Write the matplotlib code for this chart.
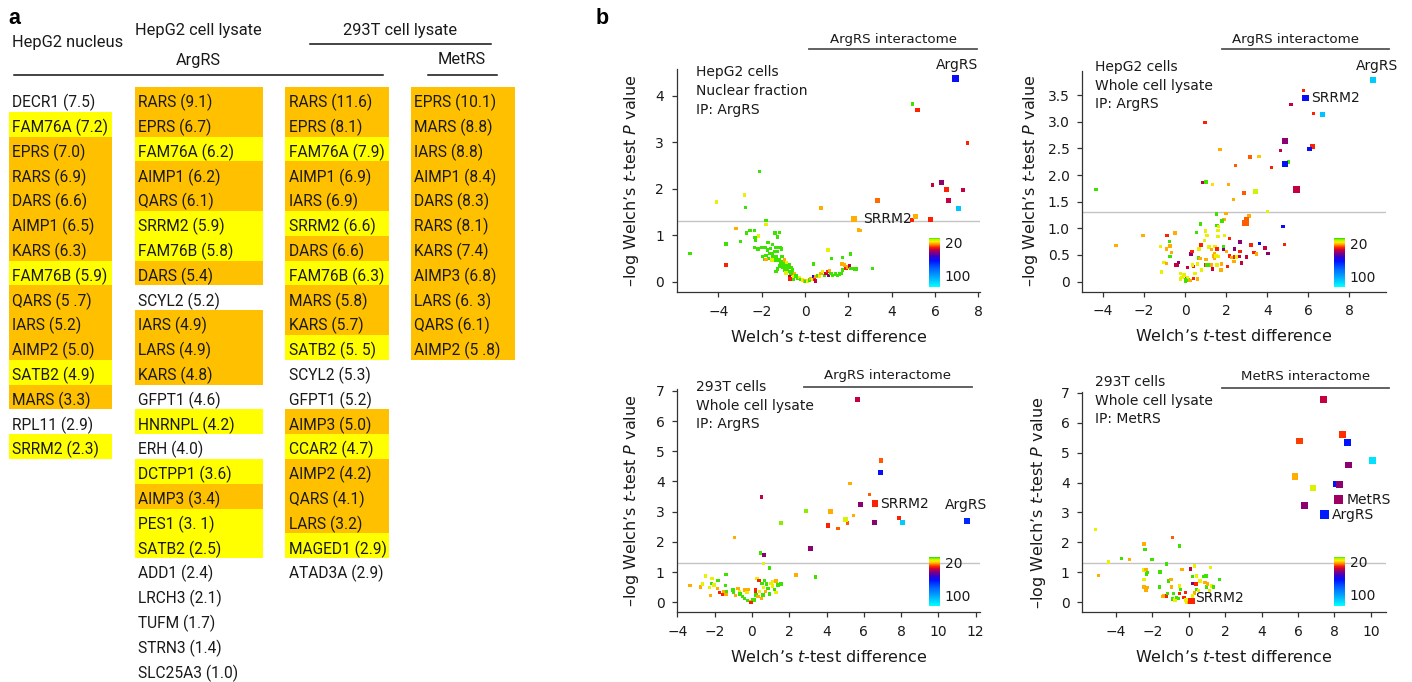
import matplotlib
matplotlib.use("Agg")
import matplotlib.pyplot as plt
from matplotlib import font_manager
from matplotlib.colors import LinearSegmentedColormap, Normalize
from matplotlib.cm import ScalarMappable
from matplotlib.patches import Rectangle

# ------------------------------------------------------------------ data: panel a
col1_names = ["DECR1", "FAM76A", "EPRS", "RARS", "DARS", "AIMP1", "KARS", "FAM76B", "QARS",
              "IARS", "AIMP2", "SATB2", "MARS", "RPL11", "SRRM2"]
col1_vals = ["7.5", "7.2", "7.0", "6.9", "6.6", "6.5", "6.3", "5.9", "5 .7", "5.2", "5.0", "4.9",
             "3.3", "2.9", "2.3"]
col1_mark = ["", "Y", "O", "O", "O", "O", "O", "Y", "O", "O", "O", "Y", "O", "", "Y"]

col2_names = ["RARS", "EPRS", "FAM76A", "AIMP1", "QARS", "SRRM2", "FAM76B", "DARS", "SCYL2", "IARS",
              "LARS", "KARS", "GFPT1", "HNRNPL", "ERH", "DCTPP1", "AIMP3", "PES1", "SATB2", "ADD1",
              "LRCH3", "TUFM", "STRN3", "SLC25A3"]
col2_vals = ["9.1", "6.7", "6.2", "6.2", "6.1", "5.9", "5.8", "5.4", "5.2", "4.9", "4.9", "4.8", "4.6",
             "4.2", "4.0", "3.6", "3.4", "3. 1", "2.5", "2.4", "2.1", "1.7", "1.4", "1.0"]
col2_mark = ["O", "O", "Y", "O", "O", "Y", "Y", "O", "", "O", "O", "O", "", "Y", "", "Y", "O", "Y",
             "Y", "", "", "", "", ""]

col3_names = ["RARS", "EPRS", "FAM76A", "AIMP1", "IARS", "SRRM2", "DARS", "FAM76B", "MARS", "KARS",
              "SATB2", "SCYL2", "GFPT1", "AIMP3", "CCAR2", "AIMP2", "QARS", "LARS", "MAGED1", "ATAD3A"]
col3_vals = ["11.6", "8.1", "7.9", "6.9", "6.9", "6.6", "6.6", "6.3", "5.8", "5.7", "5. 5", "5.3",
             "5.2", "5.0", "4.7", "4.2", "4.1", "3.2", "2.9", "2.9"]
col3_mark = ["O", "O", "Y", "O", "O", "Y", "O", "Y", "O", "O", "Y", "", "", "O", "Y", "O", "O", "O",
             "Y", ""]

col4_names = ["EPRS", "MARS", "IARS", "AIMP1", "DARS", "RARS", "KARS", "AIMP3", "LARS", "QARS", "AIMP2"]
col4_vals = ["10.1", "8.8", "8.8", "8.4", "8.3", "8.1", "7.4", "6.8", "6. 3", "6.1", "5 .8"]
col4_mark = ["O"] * 11

# ------------------------------------------------------------------ data: panel b
# colour value = position on the colour bar scale (20 ... 100); size class 1..5
p1_x = [4.97, 7.49, 5.89, 7.28, 4.94, 0.74, 2.46, 2.54, -2.11, -4.09, -2.80, -2.75, -5.31, -3.65, -3.18,
        -1.81, -1.81, -2.54, -2.34, -2.70,
        -1.39, -1.18, -1.28, -2.31, -2.29, -2.99, -3.65, -2.14, -1.71, -1.51, -2.17, -2.32, -1.99, -1.83,
        -1.72, -1.60, -1.34, -1.15, -1.09, -1.39, -1.26, -1.65, -1.49, -1.80, -1.95, -1.88, -1.68, -1.49,
        -1.34, -1.52, -1.80, -1.34, -1.19, -1.03, -1.11, -0.94, -1.19, -1.03, -0.88, -0.72, -0.65, -0.80,
        -0.96, -1.26, -1.34, -0.88, -0.72, -0.57, -0.65, -0.49, -0.72, -0.69, -0.54, -0.42, -0.34, -0.26,
        -0.19, -0.11, -0.03, 0.05, 0.12, -0.54, -1.06, -0.94, -0.85,
        0.20, 0.28, 0.35, 0.38, 0.43, 0.48, 0.51, 0.58, 0.66, 0.74, 0.81, 0.89, 0.97, 1.05, 1.09, 1.12,
        1.20, 1.28, 1.40, 1.51, 1.58, 1.69, 1.74, 1.71, 1.81, 1.89, 1.97, 2.05, 2.12, 2.28, 2.35, 3.12,
        0.38, 1.05, 1.21, 1.74, 2.09]
p1_y = [3.82, 2.98, 2.08, 1.97, 1.33, 1.58, 1.11, 1.10, 2.37, 1.71, 1.86, 1.59, 0.61, 0.36, 1.14,
        1.32, 1.23, 1.10, 1.10, 1.05,
        1.05, 1.06, 0.96, 0.95, 0.88, 0.87, 0.81, 0.98, 0.84, 0.80, 0.70, 0.73, 0.74, 0.74,
        0.68, 0.71, 0.74, 0.74, 0.70, 0.65, 0.65, 0.61, 0.61, 0.57, 0.54, 0.48, 0.50, 0.54,
        0.54, 0.47, 0.48, 0.47, 0.47, 0.43, 0.39, 0.38, 0.34, 0.32, 0.34, 0.36, 0.31, 0.27,
        0.25, 0.27, 0.22, 0.19, 0.22, 0.25, 0.17, 0.18, 0.11, 0.06, 0.11, 0.12, 0.07, 0.09,
        0.05, 0.04, 0.02, 0.00, 0.02, 0.05, 0.54, 0.47, 0.41,
        0.04, 0.07, 0.05, 0.11, 0.06, 0.02, 0.11, 0.14, 0.12, 0.18, 0.22, 0.14, 0.18, 0.22, 0.14, 0.24,
        0.18, 0.14, 0.17, 0.14, 0.17, 0.18, 0.25, 0.38, 0.36, 0.29, 0.32, 0.34, 0.29, 0.27, 0.27, 0.29,
        0.38, 0.68, 0.50, 0.52, 0.60]
p1_c = [8.5, 31, 37, 37, 31, 22, 22, 22, 8.5, 16, 16, 8.5, 8.5, 31, 22,
        8.5, 16, 8.5, 8.5, 8.5,
        8.5, 8.5, 8.5, 8.5, 8.5, 8.5, 8.5, 16, 8.5, 8.5, 8.5, 8.5, 8.5, 8.5,
        8.5, 8.5, 8.5, 8.5, 8.5, 8.5, 8.5, 8.5, 8.5, 8.5, 8.5, 8.5, 8.5, 8.5,
        8.5, 16, 22, 8.5, 8.5, 8.5, 8.5, 8.5, 8.5, 8.5, 8.5, 8.5, 8.5, 8.5,
        8.5, 8.5, 8.5, 16, 8.5, 8.5, 8.5, 22, 37, 31, 16, 8.5, 8.5, 16,
        8.5, 16, 22, 8.5, 16, 8.5, 8.5, 22, 16,
        8.5, 22, 16, 62, 31, 37, 22, 8.5, 16, 22, 16, 8.5, 37, 31, 43, 22,
        8.5, 8.5, 8.5, 8.5, 8.5, 8.5, 8.5, 22, 22, 31, 22, 37, 8.5, 8.5, 8.5, 8.5,
        8.5, 16, 8.5, 8.5, 8.5]
p1_big_x = [6.95, 5.20, 6.31, 6.51, 6.61, 7.08, 3.34, 5.08, 5.77, 2.27]
p1_big_y = [4.36, 3.69, 2.13, 1.99, 1.74, 1.58, 1.74, 1.40, 1.33, 1.34]
p1_big_c = [62, 31, 43, 31, 37, 110, 26, 22, 31, 22]
p1_big_s = [4, 2, 2, 2, 2, 2, 2, 2, 2, 3]

p2_x = [5.76, 5.16, 6.25, 0.96, 4.64, 1.69, 3.16, 3.60, 2.44, 4.20, 5.04, 0.83, 1.01, 1.33, 2.10, 2.86,
        2.37, -4.36,
        -3.38, -2.05, -0.88, -0.50, -0.78, -0.75, -0.91, -0.67, -1.20, -0.75, -1.04, -0.91, -1.17, -0.32,
        -0.45, -0.39, -0.23, -0.15, -0.23, 0.00, 0.07, 0.15, 0.23, 0.12, 0.39, 0.47, 0.39, 0.59, 0.36,
        0.28, 0.33, 0.64, 0.72, 0.59, 0.80, 0.68, 0.77, 0.55, 0.75, 0.93, 1.00, 1.06, 1.01, 0.99, 1.07,
        1.14, 1.17, 1.29, 1.42, 1.46, 1.40, 1.42, 1.50, 1.61, 1.56, 1.34, 1.29, 1.56, 1.74, 1.77, 1.87,
        1.86, 2.02, 2.15, 2.05, 2.15, 1.53, 1.99, 1.89, 1.79, 1.55, 1.63, 1.60, 1.60, 1.92, 2.28, 2.39,
        2.50, 2.38, 2.67, 2.39, 2.64, 2.67, 2.75, 3.00, 3.21, 3.35, 3.48, 3.63, 3.90, 4.03, 4.85, 4.78,
        3.04, 3.12, 4.02, -0.05, 0.10, 0.02]
p2_y = [3.59, 3.33, 3.16, 2.99, 2.46, 2.48, 2.34, 2.35, 2.18, 2.14, 2.245, 1.86, 1.87, 1.82, 1.82, 1.66,
        1.54, 1.73,
        0.68, 0.86, 0.86, 0.91, 0.75, 0.67, 0.61, 0.55, 0.66, 0.47, 0.36, 0.34, 0.18, 0.36,
        0.31, 0.30, 0.15, 0.08, 0.05, 0.00, 0.06, 0.03, 0.02, 0.27, 0.28, 0.15, 0.06, 0.05, 0.31,
        0.52, 0.56, 0.44, 0.43, 0.33, 0.22, 0.61, 0.69, 0.92, 1.08, 0.77, 0.95, 0.87, 0.42, 0.31, 0.31,
        0.31, 0.65, 0.60, 0.53, 0.66, 0.48, 0.44, 0.48, 0.47, 0.61, 0.24, 0.31, 0.31, 0.22, 0.33, 0.66,
        0.60, 0.56, 0.48, 0.28, 0.81, 1.27, 1.28, 1.17, 1.14, 1.05, 1.03, 0.96, 0.85, 0.86, 0.45, 0.46,
        0.46, 0.38, 0.74, 0.61, 0.47, 0.57, 0.35, 0.46, 0.69, 0.55, 0.52, 0.72, 0.63, 0.53, 0.70, 1.03,
        1.19, 1.23, 1.32, 0.12, 0.08, 0.04]
p2_c = [31, 37, 31, 31, 37, 22, 27, 20, 27, 31, 8.5, 37, 8.5, 19, 22, 27,
        22, 8.5,
        22, 22, 31, 22, 8.5, 22, 22, 22, 16, 8.5, 16, 22, 16, 43,
        37, 37, 16, 16, 16, 8.5, 31, 8.5, 22, 37, 31, 16, 31, 22, 16,
        43, 31, 8.5, 22, 16, 16, 16, 31, 8.5, 8.5, 16, 16, 16, 22, 31, 8.5,
        8.5, 16, 22, 22, 16, 22, 22, 16, 16, 31, 37, 22, 16, 22, 22, 8.5,
        43, 22, 31, 31, 31, 8.5, 22, 22, 8.5, 8.5, 16, 16, 16, 16, 22, 31,
        16, 22, 43, 43, 37, 31, 37, 37, 31, 31, 22, 62, 37, 43, 31, 62,
        22, 22, 16, 16, 16, 8.5]
p2_big_x = [9.14, 5.87, 6.69, 4.88, 6.20, 6.07, 4.86, 3.43, 5.43, 2.94, 2.99]
p2_big_y = [3.79, 3.45, 3.13, 2.64, 2.54, 2.49, 2.21, 1.69, 1.73, 1.095, 1.16]
p2_big_c = [112, 62, 110, 43, 31, 62, 62, 14, 37, 27, 27]
p2_big_s = [3, 4, 2, 3, 2, 2, 3, 2, 3, 3, 2]

p3_x = [5.26, 6.30, 0.50, 2.91, 5.44, 5.12, 4.62, 7.89, 1.55, -0.93, 0.46, 0.64, 0.62, 0.94, 2.37, 3.41,
        -3.32, -2.77, -2.66, -2.48, -2.15, -2.18, -2.04, -2.27, -1.82, -1.38, -1.86, -1.74, -2.22, -1.59,
        -1.38, -1.38, -1.52, -1.41, -1.02, -0.99, -0.88, -0.75, -0.66, -0.63, -0.49, -0.40, -0.25, -0.09,
        -0.04, -0.40, -0.22, -0.27, 0.02, 0.14, 0.19, 0.19, 0.27, 0.37, 0.23, 0.32, 0.41, 0.50, 0.55, 0.62,
        0.68, 0.73, 0.77, 0.86, 0.94, 1.03, 1.09, 1.12, 1.21, 1.30, 1.30, 1.39, 1.57, 0.59]
p3_y = [3.93, 3.56, 3.48, 3.02, 2.88, 2.62, 2.44, 2.79, 2.62, 2.15, 1.63, 1.57, 1.28, 1.14, 0.90, 0.84,
        0.55, 0.51, 0.60, 0.87, 0.79, 0.62, 0.57, 0.49, 0.73, 0.92, 0.45, 0.32, 0.22, 0.26,
        0.26, 0.35, 0.35, 0.55, 0.41, 0.32, 0.23, 0.46, 0.35, 0.28, 0.19, 0.13, 0.06, 0.02,
        -0.01, 0.41, 0.43, 0.32, 0.10, 0.08, 0.41, 0.30, 0.79, 0.73, 0.24, 0.19, 0.35, 0.13, 0.63, 0.49,
        0.73, 0.35, 0.60, 0.46, 0.28, 0.63, 0.68, 0.54, 0.43, 0.32, 0.71, 0.57, 0.60, 0.24]
p3_c = [22, 27, 37, 11, 22, 27, 27, 31, 11, 22, 8.5, 43, 16, 8.5, 22, 8.5,
        22, 22, 16, 16, 16, 8.5, 16, 16, 8.5, 8.5, 22, 31, 22, 31,
        22, 8.5, 22, 8.5, 8.5, 8.5, 22, 22, 16, 8.5, 8.5, 8.5, 8.5, 22,
        31, 22, 22, 16, 8.5, 8.5, 31, 31, 16, 31, 8.5, 22, 16, 22, 8.5, 16,
        8.5, 22, 8.5, 8.5, 8.5, 16, 16, 16, 8.5, 16, 22, 8.5, 8.5, 8.5]
p3_big_x = [5.67, 6.92, 6.89, 6.62, 5.83, 4.19, 5.01, 4.08, 6.57, 8.08, 11.55, 3.12]
p3_big_y = [6.70, 4.69, 4.30, 3.27, 3.23, 3.02, 2.75, 2.55, 2.64, 2.64, 2.70, 1.78]
p3_big_c = [37, 27, 62, 31, 43, 22, 15, 31, 43, 112, 68, 43]
p3_big_s = [2, 2, 2, 3, 2, 2, 2, 2, 2, 2, 3, 2]

p4_x = [-5.11, -4.95, -4.41, -3.70, -3.26, -2.46, -2.40, -2.46, -2.35, -2.27, -2.31, -2.46, -2.46, -2.27,
        -2.35, -2.03, -1.58, -1.61, -1.39, -1.43, -1.21, -1.17, -1.21, -0.88, -0.51, -1.12, -0.97, -0.94,
        -0.84, -0.88, -0.75, -0.66, -0.51, -0.57, -0.51, -0.44, -0.37, -0.26, -0.19, -0.15, -0.11, 0.00,
        0.07, 0.11, 0.33, 0.22, 0.44, 0.22, 0.40, 0.44, 0.31, 0.22, 0.53, 0.62, 0.80, 0.95, 0.90, 0.99,
        1.04, 1.13, 1.21, 1.26, 1.35, 1.68, 0.07]
p4_y = [2.44, 0.90, 1.35, 1.46, 1.44, 1.95, 1.77, 1.08, 1.10, 0.99, 0.95, 0.77, 0.52, 0.50,
        0.39, 1.44, 1.02, 0.52, 0.21, 0.19, 0.21, 0.30, 1.28, 2.17, 1.88, 0.72, 0.77, 0.52,
        0.30, 0.11, 0.08, 0.17, 0.30, 0.13, 0.55, 0.43, 1.10, 0.17, 0.34, 0.08, 0.02, -0.01,
        0.10, 1.12, 1.21, 0.86, 0.88, 0.63, 0.61, 0.43, 0.32, 0.21, 0.39, 0.72, 0.86, 0.88, 0.66, 0.52,
        0.61, 0.39, 1.17, 0.55, 0.52, 0.77, 0.08]
p4_c = [16, 22, 16, 8.5, 22, 22, 8.5, 16, 22, 8.5, 8.5, 16, 22, 22,
        22, 8.5, 8.5, 8.5, 22, 22, 31, 8.5, 8.5, 27, 8.5, 8.5, 22, 22,
        8.5, 8.5, 16, 8.5, 31, 8.5, 16, 8.5, 22, 31, 31, 16, 16, 22,
        16, 37, 16, 8.5, 16, 43, 31, 8.5, 22, 16, 16, 16, 8.5, 8.5, 22, 8.5,
        22, 16, 16, 16, 8.5, 8.5, 31]
p4_big_x = [7.40, 6.08, 8.44, 8.73, 10.11, 8.77, 5.84, 6.83, 8.13, 8.28, 8.22, 6.35, 7.45, 0.15]
p4_big_y = [6.76, 5.39, 5.60, 5.33, 4.74, 4.59, 4.20, 3.82, 3.95, 3.93, 3.43, 3.24, 2.92, 0.05]
p4_big_c = [37, 29, 30, 64, 118, 43, 22, 15, 64, 43, 41, 43, 66, 31]
p4_big_s = [4, 4, 4, 4, 4, 4, 4, 4, 4, 4, 5, 4, 5, 3]

cbar_ticks = [20, 100]

# ------------------------------------------------------------------ style
W, H, DPI = 1412, 682, 100
SIZE_AREA = {1: 6.0, 2: 12.5, 3: 19.5, 4: 23.0, 5: 40.0}
ORANGE, YELLOW = "#FFC000", "#FFFF00"
HL = {"O": ORANGE, "Y": YELLOW}

CMAP = LinearSegmentedColormap.from_list("ms", [
    (0.00, "#2ee000"), (0.035, "#b4f500"), (0.08, "#ffee00"), (0.13, "#ff9900"),
    (0.19, "#ff2200"), (0.24, "#c8003c"), (0.30, "#860078"), (0.38, "#3a00c8"),
    (0.47, "#0010ff"), (0.62, "#0060ff"), (0.82, "#00b0ff"), (1.00, "#00ffff")])
NORM = Normalize(8, 126)

_names = {f.name for f in font_manager.fontManager.ttflist}
if "Liberation Sans Narrow" in _names:
    TFONT, TSZ, HSZ = "Liberation Sans Narrow", 12.4, 13.2
else:
    TFONT, TSZ, HSZ = "Roboto", 11.2, 11.8

plt.rcParams["font.family"] = "DejaVu Sans"
plt.rcParams["mathtext.fontset"] = "dejavusans"
TXT = "#1a1a1a"

fig = plt.figure(figsize=(W / DPI, H / DPI), dpi=DPI)
bg = fig.add_axes([0, 0, 1, 1])
bg.set_xlim(0, W)
bg.set_ylim(H, 0)
bg.axis("off")


def px_axes(l, t, r, b):
    return fig.add_axes([l / W, 1 - b / H, (r - l) / W, (b - t) / H])


# ------------------------------------------------------------------ panel a
ROW0, ROWH = 87.0, 24.8


def draw_column(names, vals, marks, x0, x1):
    n = len(names)
    i = 0
    while i < n:
        if marks[i]:
            j = i
            while j + 1 < n and marks[j + 1] == marks[i]:
                j += 1
            bg.add_patch(Rectangle((x0, ROW0 + i * ROWH), x1 - x0, (j - i + 1) * ROWH,
                                   facecolor=HL[marks[i]], edgecolor="none", zorder=1))
            i = j + 1
        else:
            i += 1
    for k, (nm, v) in enumerate(zip(names, vals)):
        bg.text(x0 + 3.5, ROW0 + k * ROWH + 20.3, f"{nm} ({v})", family=TFONT, fontsize=TSZ,
                va="baseline", ha="left", color=TXT, zorder=2)


draw_column(col1_names, col1_vals, col1_mark, 9, 112.3)
draw_column(col2_names, col2_vals, col2_mark, 134.7, 262.7)
draw_column(col3_names, col3_vals, col3_mark, 285.3, 388.7)
draw_column(col4_names, col4_vals, col4_mark, 411, 514.7)

bg.text(8, 18, "a", fontsize=15.5, fontweight="bold", family="Liberation Sans", va="center", ha="left")
bg.text(596, 18, "b", fontsize=15.5, fontweight="bold", family="Liberation Sans", va="center", ha="left")
bg.text(12, 42.5, "HepG2 nucleus", family=TFONT, fontsize=HSZ, va="center", ha="left", color=TXT)
bg.text(135, 30, "HepG2 cell lysate", family=TFONT, fontsize=HSZ, va="center", ha="left", color=TXT)
bg.text(198.5, 60, "ArgRS", family=TFONT, fontsize=HSZ, va="center", ha="center", color=TXT)
bg.text(400.5, 30, "293T cell lysate", family=TFONT, fontsize=HSZ, va="center", ha="center", color=TXT)
bg.text(462, 60, "MetRS", family=TFONT, fontsize=HSZ, va="center", ha="center", color=TXT)
bg.plot([14, 383.3], [75.3, 75.3], color="#111", lw=1.1)
bg.plot([310.3, 491], [44.3, 44.3], color="#111", lw=1.1)
bg.plot([427.7, 496.7], [75.3, 75.3], color="#111", lw=1.1)

# ------------------------------------------------------------------ panel b
YLAB = "\u2013log Welch\u2019s $t$-test $P$ value"
XLAB = "Welch\u2019s $t$-test difference"


def scatter_panel(box, xlim, ylim, xt, yt, ytl, ylab_x,
                  xs, ys, cs, bx, by, bc, bs, cbox):
    l, t, r, b = box
    ax = px_axes(l, t, r, b)
    ax.set_facecolor("none")
    ax.set_xlim(*xlim)
    ax.set_ylim(*ylim)
    for side in ("top", "right"):
        ax.spines[side].set_visible(False)
    for side in ("left", "bottom"):
        ax.spines[side].set_color("#333333")
        ax.spines[side].set_linewidth(0.9)
    ax.set_xticks(xt)
    ax.set_yticks(yt)
    if ytl is not None:
        ax.set_yticklabels(ytl)
    ax.tick_params(direction="out", length=3.6, width=0.9, color="#333333",
                   labelsize=10, labelcolor=TXT, pad=5.5)
    ax.axhline(1.3, color="#c4c4c4", lw=1.0, zorder=1)
    ax.scatter(xs, ys, c=cs, cmap=CMAP, norm=NORM, marker="s", s=SIZE_AREA[1],
               linewidths=0, zorder=3)
    ax.scatter(bx, by, c=bc, cmap=CMAP, norm=NORM, marker="s",
               s=[SIZE_AREA[k] for k in bs], linewidths=0, zorder=4)
    ax.set_xlabel(XLAB, fontsize=11.5, color=TXT)
    ax.set_ylabel(YLAB, fontsize=11.5, color=TXT)
    ax.xaxis.set_label_coords(0.5, -44.5 / (b - t))
    ax.xaxis.label.set_va("center")
    ax.yaxis.set_label_coords(ylab_x, 0.5)
    ax.yaxis.label.set_va("center")
    # colour bar inset
    cl, ct, cr, cb_ = cbox
    cax = px_axes(cl, ct, cr, cb_)
    sm = ScalarMappable(norm=NORM, cmap=CMAP)
    cbar = fig.colorbar(sm, cax=cax)
    cbar.outline.set_visible(False)
    cax.invert_yaxis()
    cbar.set_ticks(cbar_ticks)
    cbar.set_ticklabels([str(v) for v in cbar_ticks])
    cax.tick_params(length=0, pad=3.5, labelsize=10, labelcolor=TXT)
    return ax


def header(text, xc, yt, x0, x1, yl):
    bg.text(xc, yt, text, fontsize=9.6, ha="center", va="center", color=TXT)
    bg.plot([x0, x1], [yl, yl], color="#555555", lw=1.3)


def info(x, ys, lines):
    for yy, s in zip(ys, lines):
        bg.text(x, yy, s, fontsize=10, ha="left", va="center", color=TXT)


def label(ax, text, x, y, dx, dy, ha):
    ax.annotate(text, xy=(x, y), xytext=(dx, dy), textcoords="offset pixels",
                fontsize=10, ha=ha, va="center", color=TXT, zorder=5)


ax1 = scatter_panel((676.7, 69, 980, 292), (-5.92, 8.07), (-0.22, 4.57),
                    [-4, -2, 0, 2, 4, 6, 8], [0, 1, 2, 3, 4], None, -0.148,
                    p1_x, p1_y, p1_c, p1_big_x, p1_big_y, p1_big_c, p1_big_s,
                    (929, 237.7, 940, 286.7))
label(ax1, "ArgRS", p1_big_x[0], p1_big_y[0], 1, 14, "center")
label(ax1, "SRRM2", p1_big_x[9], p1_big_y[9], 9, 0, "left")
header("ArgRS interactome", 893, 39, 809, 977, 49.3)
info(695.7, [72.3, 91, 109.7], ["HepG2 cells", "Nuclear fraction", "IP: ArgRS"])

ax2 = scatter_panel((1082.3, 70.7, 1385.7, 291.7), (-5.02, 9.78), (-0.19, 3.96),
                    [-4, -2, 0, 2, 4, 6, 8], [0, 0.5, 1, 1.5, 2, 2.5, 3, 3.5],
                    ["0", "0.5", "1.0", "1.5", "2.0", "2.5", "3.0", "3.5"], -0.172,
                    p2_x, p2_y, p2_c, p2_big_x, p2_big_y, p2_big_c, p2_big_s,
                    (1334.3, 238.3, 1345, 286.7))
label(ax2, "ArgRS", p2_big_x[0], p2_big_y[0], 4, 14, "center")
label(ax2, "SRRM2", p2_big_x[1], p2_big_y[1], 6, 0, "left")
header("ArgRS interactome", 1296, 39, 1221.7, 1389, 49.3)
info(1095, [66.7, 85.7, 103.7], ["HepG2 cells", "Whole cell lysate", "IP: ArgRS"])

ax3 = scatter_panel((677.3, 389.3, 980, 612.3), (-4, 12.23), (-0.33, 7.05),
                    [-4, -2, 0, 2, 4, 6, 8, 10, 12], [0, 1, 2, 3, 4, 5, 6, 7], None, -0.151,
                    p3_x, p3_y, p3_c, p3_big_x, p3_big_y, p3_big_c, p3_big_s,
                    (929.3, 557.3, 940, 605.7))
label(ax3, "SRRM2", p3_big_x[3], p3_big_y[3], 5, 0, "left")
label(ax3, "ArgRS", p3_big_x[10], p3_big_y[10], -1, 16, "center")
header("ArgRS interactome", 887.3, 376, 804, 971.7, 387.3)
info(695.7, [387.3, 405.7, 424], ["293T cells", "Whole cell lysate", "IP: ArgRS"])

ax4 = scatter_panel((1082.3, 392.3, 1385.7, 612.3), (-5.85, 10.82), (-0.33, 7.01),
                    [-4, -2, 0, 2, 4, 6, 8, 10], [0, 1, 2, 3, 4, 5, 6, 7], None, -0.145,
                    p4_x, p4_y, p4_c, p4_big_x, p4_big_y, p4_big_c, p4_big_s,
                    (1334.3, 556.7, 1345, 605.7))
label(ax4, "MetRS", p4_big_x[10], p4_big_y[10], 8, 0, "left")
label(ax4, "ArgRS", p4_big_x[12], p4_big_y[12], 8, 0, "left")
label(ax4, "SRRM2", p4_big_x[13], p4_big_y[13], 4, 3, "left")
header("MetRS interactome", 1306, 376.7, 1221.7, 1389.3, 387.7)
info(1095, [382.3, 401, 419], ["293T cells", "Whole cell lysate", "IP: MetRS"])

fig.savefig("out.png", dpi=DPI)
